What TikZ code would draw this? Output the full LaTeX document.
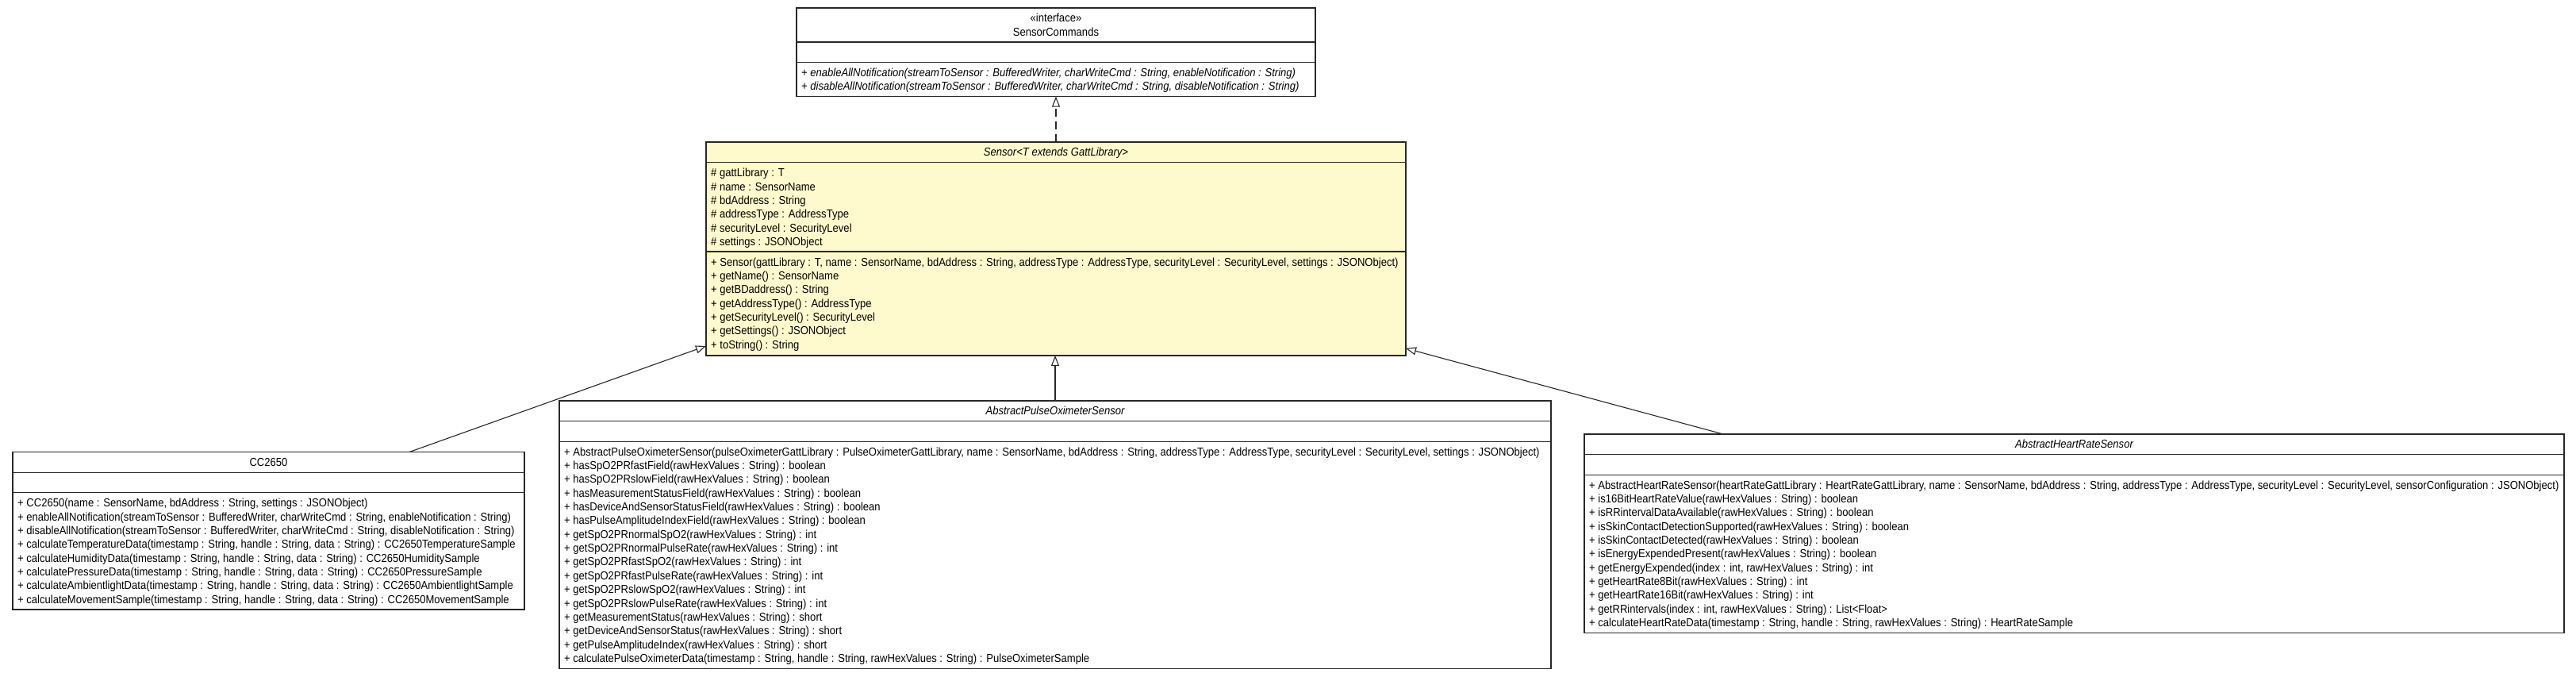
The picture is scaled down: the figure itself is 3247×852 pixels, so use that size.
\documentclass[tikz,border=0pt]{standalone}
\usepackage{fontspec}
\setmainfont{Liberation Sans}[FakeStretch=0.9]
\usetikzlibrary{arrows.meta,calc}
\definecolor{senfill}{RGB}{255,250,205}
\definecolor{edge}{RGB}{40,40,40}
\begin{document}
\begin{tikzpicture}[x=1pt,y=-1pt,
  box/.style={draw=edge,line width=1.4pt,inner sep=0pt,outer sep=0pt,anchor=north west},
  sep/.style={draw=edge,line width=1.4pt},
  txt/.style={anchor=base west,inner sep=0pt,font=\fontsize{14.5}{17}\selectfont},
  itxt/.style={txt,font=\fontsize{14.5}{17}\selectfont\itshape},
  ttl/.style={anchor=base,inner sep=0pt,font=\fontsize{14.5}{17}\selectfont},
  ittl/.style={ttl,font=\fontsize{14.5}{17}\selectfont\itshape},
  gen/.style={draw=edge,line width=1.1pt,-{Triangle[length=13pt,width=10pt,fill=white]}},
  real/.style={gen,dash pattern=on 10pt off 6pt}]

\fill[white] (0,0) rectangle (3247,852);
\useasboundingbox (0,0) rectangle (3247,852);

% ---------- SensorCommands ----------
\node[box,fill=white,minimum width=654pt,minimum height=111.6pt] (cmd) at (1004,10) {};
\draw[sep] (1004,53.05) -- (1658,53.05) (1004,78.55) -- (1658,78.55);
\node[ttl] (cmd-s) at (1331,27.95) {«interface»};
\node[ttl] (cmd-t) at (1331,45.3) {SensorCommands};
\foreach \t [count=\i from 0] in {
 {+ enableAllNotification(streamToSensor : BufferedWriter, charWriteCmd : String, enableNotification : String)},
 {+ disableAllNotification(streamToSensor : BufferedWriter, charWriteCmd : String, disableNotification : String)}}
 \node[itxt] (cmd-o\i) at (1010,{96.5+\i*17.35}) {\t};

% ---------- Sensor ----------
\node[box,fill=senfill,minimum width=882pt,minimum height=268.95pt] (sen) at (890,179) {};
\draw[sep] (890,204.7) -- (1772,204.7) (890,317.15) -- (1772,317.15);
\node[ittl] (sen-t) at (1331,196.95) {Sensor<T extends GattLibrary>};
\foreach \t [count=\i from 0] in {
 {\# gattLibrary : T},
 {\# name : SensorName},
 {\# bdAddress : String},
 {\# addressType : AddressType},
 {\# securityLevel : SecurityLevel},
 {\# settings : JSONObject}}
 \node[txt] (sen-a\i) at (896,{222.65+\i*17.35}) {\t};
\foreach \t [count=\i from 0] in {
 {+ Sensor(gattLibrary : T, name : SensorName, bdAddress : String, addressType : AddressType, securityLevel : SecurityLevel, settings : JSONObject)},
 {+ getName() : SensorName},
 {+ getBDaddress() : String},
 {+ getAddressType() : AddressType},
 {+ getSecurityLevel() : SecurityLevel},
 {+ getSettings() : JSONObject},
 {+ toString() : String}}
 \node[txt] (sen-o\i) at (896,{335.1+\i*17.35}) {\t};

% ---------- CC2650 ----------
\node[box,fill=white,minimum width=645pt,minimum height=198.35pt] (cc) at (16,569.5) {};
\draw[sep] (16,595.2) -- (661,595.2) (16,620.7) -- (661,620.7);
\node[ttl] (cc-t) at (338.5,587.45) {CC2650};
\foreach \t [count=\i from 0] in {
 {+ CC2650(name : SensorName, bdAddress : String, settings : JSONObject)},
 {+ enableAllNotification(streamToSensor : BufferedWriter, charWriteCmd : String, enableNotification : String)},
 {+ disableAllNotification(streamToSensor : BufferedWriter, charWriteCmd : String, disableNotification : String)},
 {+ calculateTemperatureData(timestamp : String, handle : String, data : String) : CC2650TemperatureSample},
 {+ calculateHumidityData(timestamp : String, handle : String, data : String) : CC2650HumiditySample},
 {+ calculatePressureData(timestamp : String, handle : String, data : String) : CC2650PressureSample},
 {+ calculateAmbientlightData(timestamp : String, handle : String, data : String) : CC2650AmbientlightSample},
 {+ calculateMovementSample(timestamp : String, handle : String, data : String) : CC2650MovementSample}}
 \node[txt] (cc-o\i) at (22,{638.65+\i*17.35}) {\t};

% ---------- AbstractPulseOximeterSensor ----------
\node[box,fill=white,minimum width=1250pt,minimum height=337.2pt] (pulse) at (705,505) {};
\draw[sep] (705,530.7) -- (1955,530.7) (705,556.2) -- (1955,556.2);
\node[ittl] (pulse-t) at (1330,522.95) {AbstractPulseOximeterSensor};
\foreach \t [count=\i from 0] in {
 {+ AbstractPulseOximeterSensor(pulseOximeterGattLibrary : PulseOximeterGattLibrary, name : SensorName, bdAddress : String, addressType : AddressType, securityLevel : SecurityLevel, settings : JSONObject)},
 {+ hasSpO2PRfastField(rawHexValues : String) : boolean},
 {+ hasSpO2PRslowField(rawHexValues : String) : boolean},
 {+ hasMeasurementStatusField(rawHexValues : String) : boolean},
 {+ hasDeviceAndSensorStatusField(rawHexValues : String) : boolean},
 {+ hasPulseAmplitudeIndexField(rawHexValues : String) : boolean},
 {+ getSpO2PRnormalSpO2(rawHexValues : String) : int},
 {+ getSpO2PRnormalPulseRate(rawHexValues : String) : int},
 {+ getSpO2PRfastSpO2(rawHexValues : String) : int},
 {+ getSpO2PRfastPulseRate(rawHexValues : String) : int},
 {+ getSpO2PRslowSpO2(rawHexValues : String) : int},
 {+ getSpO2PRslowPulseRate(rawHexValues : String) : int},
 {+ getMeasurementStatus(rawHexValues : String) : short},
 {+ getDeviceAndSensorStatus(rawHexValues : String) : short},
 {+ getPulseAmplitudeIndex(rawHexValues : String) : short},
 {+ calculatePulseOximeterData(timestamp : String, handle : String, rawHexValues : String) : PulseOximeterSample}}
 \node[txt] (pulse-o\i) at (711,{574.15+\i*17.35}) {\t};

% ---------- AbstractHeartRateSensor ----------
\node[box,fill=white,minimum width=1235pt,minimum height=250.4pt] (hr) at (1997,547) {};
\draw[sep] (1997,572.7) -- (3232,572.7) (1997,598.2) -- (3232,598.2);
\node[ittl] (hr-t) at (2614.5,564.95) {AbstractHeartRateSensor};
\foreach \t [count=\i from 0] in {
 {+ AbstractHeartRateSensor(heartRateGattLibrary : HeartRateGattLibrary, name : SensorName, bdAddress : String, addressType : AddressType, securityLevel : SecurityLevel, sensorConfiguration : JSONObject)},
 {+ is16BitHeartRateValue(rawHexValues : String) : boolean},
 {+ isRRintervalDataAvailable(rawHexValues : String) : boolean},
 {+ isSkinContactDetectionSupported(rawHexValues : String) : boolean},
 {+ isSkinContactDetected(rawHexValues : String) : boolean},
 {+ isEnergyExpendedPresent(rawHexValues : String) : boolean},
 {+ getEnergyExpended(index : int, rawHexValues : String) : int},
 {+ getHeartRate8Bit(rawHexValues : String) : int},
 {+ getHeartRate16Bit(rawHexValues : String) : int},
 {+ getRRintervals(index : int, rawHexValues : String) : List<Float>},
 {+ calculateHeartRateData(timestamp : String, handle : String, rawHexValues : String) : HeartRateSample}}
 \node[txt] (hr-o\i) at (2003,{616.15+\i*17.35}) {\t};

% ---------- connectors ----------
\draw[real] (sen.north) -- (cmd.south);
\draw[gen] (pulse.north) -- (pulse.north |- sen.south);
\draw[gen] ($(cc.north west)+(500,0)$) -- ($(sen.south west)+(0,-12)$);
\draw[gen] ($(hr.north west)+(175,0)$) -- ($(sen.south east)+(0,-9)$);
\end{tikzpicture}
\end{document}
